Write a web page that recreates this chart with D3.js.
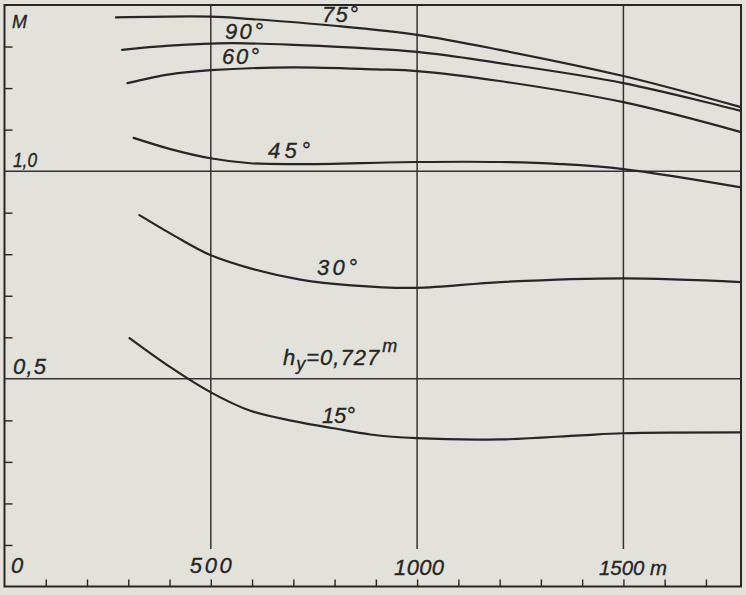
<!DOCTYPE html>
<html>
<head>
<meta charset="utf-8">
<script src="https://cdn.jsdelivr.net/npm/d3@7"></script>
<style>
  html, body { margin: 0; padding: 0; background: #e2e2db; }
  svg { display: block; }
  text { font-family: "Liberation Sans", Arial, sans-serif; font-style: italic; fill: #262626;
         stroke: #262626; stroke-width: 0.35px; }
</style>
</head>
<body>
<svg id="chart" width="746" height="595"></svg>
<script>
// ---- data (distance in m, M value) ----
const distance75 = [270, 500, 600, 800, 1000, 1200, 1500, 1785];
const values75   = [1.370, 1.372, 1.366, 1.350, 1.328, 1.292, 1.229, 1.154];

const distance90 = [285, 400, 550, 700, 1000, 1200, 1500, 1785];
const values90   = [1.292, 1.302, 1.308, 1.304, 1.287, 1.260, 1.212, 1.145];

const distance60 = [298, 400, 500, 700, 900, 1000, 1200, 1500, 1785];
const values60   = [1.212, 1.233, 1.243, 1.250, 1.245, 1.241, 1.217, 1.166, 1.094];

const distance45 = [313, 402, 499, 596, 717, 998, 1202, 1347, 1500, 1785];
const values45   = [1.080, 1.053, 1.031, 1.019, 1.017, 1.022, 1.022, 1.017, 1.005, 0.961];

const distance30 = [327, 414, 499, 596, 717, 840, 998, 1202, 1500, 1785];
const values30   = [0.894, 0.843, 0.798, 0.766, 0.739, 0.725, 0.719, 0.733, 0.742, 0.733];

const distance15 = [303, 402, 499, 596, 717, 797, 887, 998, 1202, 1396, 1500, 1785];
const values15   = [0.598, 0.528, 0.468, 0.423, 0.395, 0.381, 0.366, 0.357, 0.354, 0.364, 0.369, 0.371];

const curveNames = ["75°", "90°", "60°", "45°", "30°", "15°"];

const xMajorTicks = [500, 1000, 1500];
const xMinorTicks = [100, 200, 300, 400, 600, 700, 800, 900, 1100, 1200, 1300, 1400, 1600, 1700];
const yMajorTicks = [0.5, 1.0];
const yMinorTicks = [0.1, 0.2, 0.3, 0.4, 0.6, 0.7, 0.8, 0.9, 1.1, 1.2, 1.3];
const yTickLabels = ["0,5", "1,0"];
const xTickLabels = ["0", "500", "1000", "1500 m"];
const yAxisTitle = "M";
const heightNote = { main: "h", sub: "y", value: "=0,727", sup: "m" };

// ---- layout ----
const svg = d3.select("#chart");
const x = d3.scaleLinear().domain([0, 1785]).range([4.5, 741]);
const y = d3.scaleLinear().domain([0, 1.4]).range([586.5, 5]);
const ink = "#262626";

// frame
svg.append("rect")
  .attr("x", x(0)).attr("y", y(1.4))
  .attr("width", x(1785) - x(0)).attr("height", y(0) - y(1.4))
  .attr("fill", "none").attr("stroke", ink).attr("stroke-width", 2);

// horizontal grid lines
svg.append("g").selectAll("line").data(yMajorTicks).join("line")
  .attr("x1", x(0)).attr("x2", x(1785))
  .attr("y1", d => y(d)).attr("y2", d => y(d))
  .attr("stroke", "#333").attr("stroke-width", 1.5);

// vertical grid lines (stop above the labels)
svg.append("g").selectAll("line").data(xMajorTicks).join("line")
  .attr("x1", d => x(d)).attr("x2", d => x(d))
  .attr("y1", y(1.4)).attr("y2", 549)
  .attr("stroke", "#333").attr("stroke-width", 1.5);

// bottom ticks (inward)
const xAxis = d3.axisBottom(x).tickValues(xMinorTicks.concat(xMajorTicks)).tickSize(-7).tickFormat("");
const gx = svg.append("g").attr("transform", `translate(0,${y(0)})`).call(xAxis);
gx.select(".domain").remove();
gx.selectAll("line").attr("stroke", ink).attr("stroke-width", 1.4);

// left ticks (inward)
const yAxis = d3.axisLeft(y).tickValues(yMinorTicks).tickSize(-8).tickFormat("");
const gy = svg.append("g").attr("transform", `translate(${x(0)},0)`).call(yAxis);
gy.select(".domain").remove();
gy.selectAll("line").attr("stroke", ink).attr("stroke-width", 1.4);

// tick labels
svg.append("text").attr("x", 12).attr("y", 28).attr("font-size", 18).text(yAxisTitle);
svg.append("text").attr("x", 13).attr("y", y(1.0) - 4).attr("font-size", 20)
  .attr("textLength", 24).attr("lengthAdjust", "spacingAndGlyphs").text(yTickLabels[1]);
svg.append("text").attr("x", 13).attr("y", y(0.5) - 5).attr("font-size", 22)
  .attr("textLength", 33).attr("lengthAdjust", "spacing").text(yTickLabels[0]);

svg.append("text").attr("x", 11).attr("y", 573).attr("font-size", 22).text(xTickLabels[0]);
svg.append("text").attr("x", x(500)).attr("y", 573).attr("font-size", 22)
  .attr("text-anchor", "middle").attr("textLength", 42).attr("lengthAdjust", "spacing").text(xTickLabels[1]);
svg.append("text").attr("x", x(1000) + 2).attr("y", 575).attr("font-size", 22)
  .attr("text-anchor", "middle").attr("textLength", 50).attr("lengthAdjust", "spacing").text(xTickLabels[2]);
svg.append("text").attr("x", 599).attr("y", 575).attr("font-size", 21)
  .attr("textLength", 68).attr("lengthAdjust", "spacingAndGlyphs").text(xTickLabels[3]);

// curves
const series = [
  [distance75, values75], [distance90, values90], [distance60, values60],
  [distance45, values45], [distance30, values30], [distance15, values15]
];
const line = d3.line().x(d => x(d[0])).y(d => y(d[1])).curve(d3.curveCatmullRom.alpha(0.5));
svg.append("g").selectAll("path").data(series).join("path")
  .attr("d", s => line(d3.zip(s[0], s[1])))
  .attr("fill", "none").attr("stroke", ink).attr("stroke-width", 2.2)
  .attr("stroke-linecap", "round");

// curve labels
const labelPos = [
  { x: 322, y: 22, w: 36 },
  { x: 225, y: 39, w: 38 },
  { x: 222, y: 64, w: 37 },
  { x: 268, y: 158, w: 42 },
  { x: 317, y: 275, w: 40 },
  { x: 322, y: 423, w: 33 }
];
svg.append("g").selectAll("text").data(curveNames).join("text")
  .attr("x", (d, i) => labelPos[i].x).attr("y", (d, i) => labelPos[i].y)
  .attr("font-size", 22)
  .attr("textLength", (d, i) => labelPos[i].w).attr("lengthAdjust", "spacing")
  .text(d => d);

// h_y note
const note = svg.append("text").attr("x", 283).attr("y", 365).attr("font-size", 22)
  .attr("letter-spacing", 1);
note.append("tspan").text(heightNote.main);
note.append("tspan").attr("font-size", 18).attr("dy", 5).text(heightNote.sub);
note.append("tspan").attr("dy", -5).text(heightNote.value);
note.append("tspan").attr("font-size", 18).attr("dy", -13).attr("dx", 2).text(heightNote.sup);
</script>
</body>
</html>
